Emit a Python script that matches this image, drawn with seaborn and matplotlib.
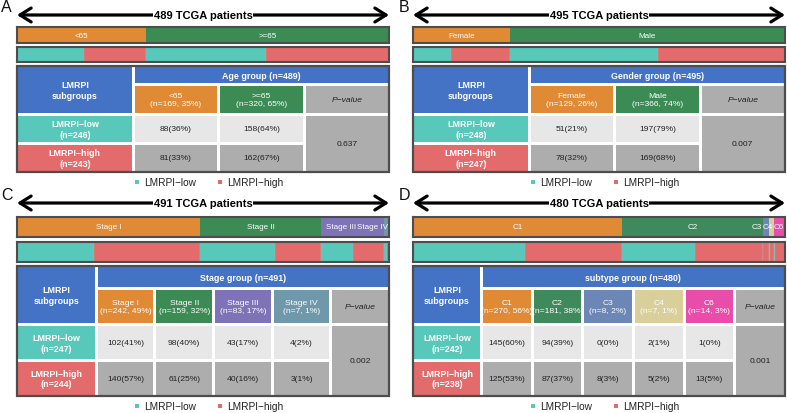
import numpy as np
import matplotlib
matplotlib.use("Agg")
import matplotlib.pyplot as plt
import seaborn as sns
from matplotlib.patches import Rectangle, FancyArrowPatch

sns.set_theme(style="white")
plt.rcParams['font.family'] = ['Liberation Sans', 'DejaVu Sans']

# ---------------- data ----------------
age_cats = ['<65', '>=65']
age_low = [88, 158]
age_high = [81, 162]
age_p = '0.637'

gender_cats = ['Female', 'Male']
gender_low = [51, 197]
gender_high = [78, 169]
gender_p = '0.007'

stage_cats = ['Stage I', 'Stage II', 'Stage III', 'Stage IV']
stage_low = [102, 98, 43, 4]
stage_high = [140, 61, 40, 3]
stage_p = '0.002'

subtype_cats = ['C1', 'C2', 'C3', 'C4', 'C6']
subtype_low = [145, 94, 0, 2, 1]
subtype_high = [125, 87, 8, 5, 13]
subtype_p = '0.001'

legend_labels = ['LMRPI\u2212low', 'LMRPI\u2212high']

# ---------------- colours ----------------
ORANGE = '#E08A36'
GREEN = '#3C8B55'
BLUE = '#4472C4'
TEAL = '#57C8B9'
RED = '#E46B6B'
LGRAY = '#E7E7E7'
DGRAY = '#ADADAD'
PURPLE = '#7E73B6'
STEEL = '#6F98AA'
C3COL = '#6C86B6'
C4COL = '#D8CF9B'
C6COL = '#E94CA9'
FRAME = '#4D4D4D'

panels = [
    dict(letter='A', cats=age_cats, low=age_low, high=age_high, p=age_p, group='Age group',
         colors=[ORANGE, GREEN], x0=17, x1=389, lx=1, ly=8, arrow_y=16,
         bar1=(28, 44), bar2=(48, 63), table=(67, 173), leg_y=183),
    dict(letter='B', cats=gender_cats, low=gender_low, high=gender_high, p=gender_p, group='Gender group',
         colors=[ORANGE, GREEN], x0=413, x1=785, lx=399, ly=8, arrow_y=16,
         bar1=(28, 44), bar2=(48, 63), table=(67, 173), leg_y=183),
    dict(letter='C', cats=stage_cats, low=stage_low, high=stage_high, p=stage_p, group='Stage group',
         colors=[ORANGE, GREEN, PURPLE, STEEL], x0=17, x1=389, lx=1, ly=196, arrow_y=204,
         bar1=(218, 238), bar2=(243, 263), table=(267, 397), leg_y=407),
    dict(letter='D', cats=subtype_cats, low=subtype_low, high=subtype_high, p=subtype_p, group='subtype group',
         colors=[ORANGE, '#3E8A5C', C3COL, C4COL, C6COL], x0=413, x1=785, lx=399, ly=196, arrow_y=204,
         bar1=(218, 238), bar2=(243, 263), table=(267, 397), leg_y=407),
]

W, H = 787, 414
fig = plt.figure(figsize=(W / 100, H / 100), dpi=100)
ov = fig.add_axes([0, 0, 1, 1])
ov.set_xlim(0, W)
ov.set_ylim(H, 0)
ov.axis('off')
ov.set_zorder(10)


def pct(a, b):
    return int(np.floor(a / b * 100 + 0.5))


def bar_axes(x0, x1, y0, y1):
    ax = fig.add_axes([x0 / W, 1 - y1 / H, (x1 - x0) / W, (y1 - y0) / H])
    ax.set_xticks([])
    ax.set_yticks([])
    for s in ax.spines.values():
        s.set_visible(True)
        s.set_color(FRAME)
        s.set_linewidth(1.5)
    return ax


bar_label_texts = []

for P in panels:
    cats, low, high = P['cats'], np.array(P['low']), np.array(P['high'])
    tot = low + high
    total = tot.sum()
    x0, x1 = P['x0'], P['x1']

    # panel letter
    ov.text(P['lx'], P['ly'], P['letter'], fontsize=11.5, ha='left', va='center', color='#111111')

    # double arrow + title
    arr = FancyArrowPatch((x0, P['arrow_y']), (x1, P['arrow_y']),
                          arrowstyle='<->,head_length=0.8,head_width=0.5',
                          mutation_scale=10, lw=2.3, color='black', shrinkA=0, shrinkB=0)
    ov.add_patch(arr)
    ov.text((x0 + x1) / 2, P['arrow_y'], f'{total} TCGA patients', fontsize=8, fontweight='bold',
            ha='center', va='center', color='black',
            bbox=dict(facecolor='white', edgecolor='none', pad=0.6))

    # bar 1 : group composition
    ax1 = bar_axes(x0, x1, *P['bar1'])
    left = np.concatenate([[0], np.cumsum(tot)[:-1]])
    ax1.barh(0, tot, left=left, height=1, color=P['colors'], linewidth=0)
    ax1.set_xlim(0, total)
    ax1.set_ylim(-0.5, 0.5)
    ymid = sum(P['bar1']) / 2
    texts = []
    for c, l, t in zip(cats, left, tot):
        xc = x0 + (l + t / 2) / total * (x1 - x0)
        texts.append(ov.text(xc, ymid, c, fontsize=5.8, color='white', ha='center', va='center', zorder=5))
    bar_label_texts.append((texts, x1))

    # bar 2 : LMRPI composition within each group
    ax2 = bar_axes(x0, x1, *P['bar2'])
    seg_w, seg_c = [], []
    for lo, hi in zip(low, high):
        seg_w += [lo, hi]
        seg_c += [TEAL, RED]
    seg_w = np.array(seg_w)
    seg_l = np.concatenate([[0], np.cumsum(seg_w)[:-1]])
    ax2.barh(0, seg_w, left=seg_l, height=1, color=seg_c, edgecolor='#B0B0B0', linewidth=0.25)
    ax2.set_xlim(0, total)
    ax2.set_ylim(-0.5, 0.5)

    # table
    ty0, ty1 = P['table']
    g = 3
    n = len(cats) + 1
    ix0, ix1, iy0, iy1 = x0 + 1, x1 - 1, ty0 + 1, ty1 - 1
    cw = (ix1 - ix0 - n * g) / (n + 1.38)
    lw_ = 1.38 * cw
    rh = (iy1 - iy0 - 3 * g) / 3.62
    hh = 0.62 * rh
    ov.add_patch(Rectangle((x0, ty0), x1 - x0, ty1 - ty0, facecolor='white', edgecolor='none', zorder=1))
    ov.add_patch(Rectangle((x0, ty0), x1 - x0, ty1 - ty0, facecolor='none', edgecolor=FRAME, lw=1.6, zorder=4))

    r_head = (iy0, iy0 + hh)
    r_sub = (r_head[1] + g, r_head[1] + g + rh)
    r_low = (r_sub[1] + g, r_sub[1] + g + rh)
    r_high = (r_low[1] + g, iy1)
    cols = [(ix0 + lw_ + g + i * (cw + g), ix0 + lw_ + g + i * (cw + g) + cw) for i in range(n)]
    cols[-1] = (cols[-1][0], ix1)

    def cell(xr, yr, fc, txt='', color='white', **kw):
        ov.add_patch(Rectangle((xr[0], yr[0]), xr[1] - xr[0], yr[1] - yr[0], facecolor=fc,
                               edgecolor='none', zorder=2))
        if txt:
            ov.text((xr[0] + xr[1]) / 2, (yr[0] + yr[1]) / 2, txt, ha='center', va='center',
                    color=color, zorder=3, linespacing=1.25, **kw)

    cell((ix0, ix0 + lw_), (r_head[0], r_sub[1]), BLUE, 'LMRPI\nsubgroups', fontsize=6.4, fontweight='bold')
    cell((ix0, ix0 + lw_), r_low, TEAL, f'{legend_labels[0]}\n(n={low.sum()})', fontsize=6.4, fontweight='bold')
    cell((ix0, ix0 + lw_), r_high, RED, f'{legend_labels[1]}\n(n={high.sum()})', fontsize=6.4, fontweight='bold')
    cell((cols[0][0], ix1), r_head, BLUE, f"{P['group']} (n={total})", fontsize=6.4, fontweight='bold')
    for i, c in enumerate(cats):
        cell(cols[i], r_sub, P['colors'][i], f'{c}\n(n={tot[i]}, {pct(tot[i], total)}%)', fontsize=6.1)
        cell(cols[i], r_low, LGRAY, f'{low[i]}({pct(low[i], low.sum())}%)', color='#222222', fontsize=6.1)
        cell(cols[i], r_high, DGRAY, f'{high[i]}({pct(high[i], high.sum())}%)', color='#222222', fontsize=6.1)
    cell(cols[-1], r_sub, DGRAY, 'P\u2212value', color='#222222', fontsize=6.1, fontstyle='italic')
    cell(cols[-1], (r_low[0], r_high[1]), DGRAY, P['p'], color='#222222', fontsize=6.1)

    # legend
    cx = (x0 + x1) / 2
    ly = P['leg_y']
    for dx, col, lab in [(-66, TEAL, legend_labels[0]), (17, RED, legend_labels[1])]:
        ov.add_patch(Rectangle((cx + dx - 2, ly - 2), 4, 4, facecolor=col, edgecolor='none'))
        ov.text(cx + dx + 7, ly, lab, fontsize=7.3, ha='left', va='center', color='#222222')

# de-overlap bar-1 labels so that they stay inside the bar
fig.canvas.draw()
rend = fig.canvas.get_renderer()
for texts, xend in bar_label_texts:
    max_right = xend - 1
    for t in reversed(texts):
        w = t.get_window_extent(renderer=rend).width
        xc = t.get_position()[0]
        if xc + w / 2 > max_right:
            xc = max_right - w / 2
            t.set_x(xc)
        max_right = xc - w / 2 - 1.0

fig.savefig('out.png', dpi=100)
